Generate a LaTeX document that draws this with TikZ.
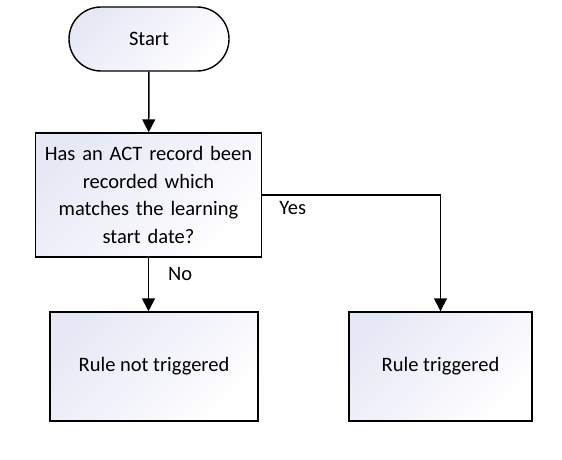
\documentclass[tikz,border=0pt]{standalone}
\usepackage{fontspec}
\setmainfont{Carlito}
\usepackage{xcolor}
\usepackage{tikz}
\usetikzlibrary{arrows.meta, shapes, positioning}

\definecolor{boxfill}{RGB}{230,232,245}

\tikzset{
  flowbox/.style={draw, line width=1.4pt, top color=boxfill, bottom color=white,
    shading angle=45, inner sep=4pt, font=\fontsize{20.5}{27.5}\selectfont},
  termbox/.style={flowbox, rounded corners=32pt, minimum width=160pt, minimum height=64pt},
  flowline/.style={line width=1.5pt, -{Triangle[length=13pt,width=13pt]}},
  lbl/.style={inner sep=0pt, font=\fontsize{20.5}{27.5}\selectfont}
}

\begin{document}
\begin{tikzpicture}[x=1pt,y=-1pt]

        \useasboundingbox (0,0) rectangle (562,460);

        % Start terminal
        \node[termbox] (start) at (149,39) {Start};

        % Decision
        \node[flowbox, minimum width=223pt, minimum height=124pt, text width=218pt, align=center]
            (check) at (148.5,195) {Has an ACT record been\\recorded which\\matches the learning\\start date?};

        % Outcomes
        \node[flowbox, minimum width=208pt, minimum height=109pt] (notrig) at (154,366.5) {Rule not triggered};
        \node[flowbox, minimum width=183pt, minimum height=109pt] (trig) at (440.5,366.5) {Rule triggered};

        % Connectors
        \draw[flowline] (start) -- (check);
        \draw[flowline] (check.south) -- (check.south |- notrig.north);
        \draw[flowline] (check.east) -| (trig.north);

        % Branch labels
        \node[lbl, anchor=north west] (nolbl) at ([xshift=19.5pt,yshift=-9pt]check.south) {No};
        \node[lbl, anchor=north west] (yeslbl) at ([xshift=17pt,yshift=-6pt]check.east) {Yes};

\end{tikzpicture}
\end{document}
